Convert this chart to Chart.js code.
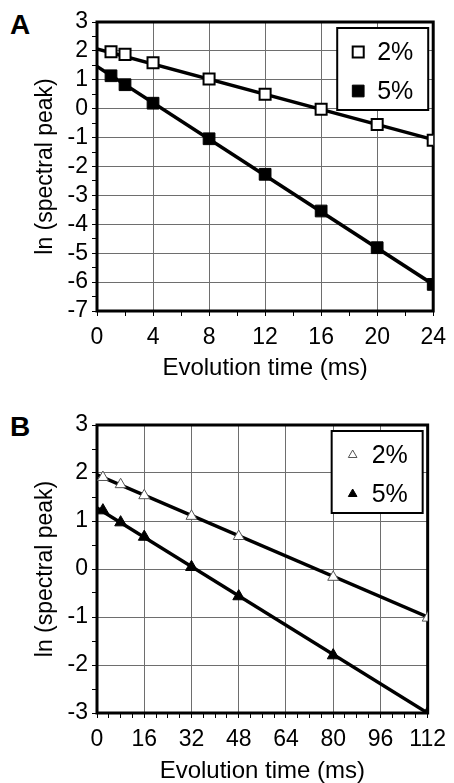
<!DOCTYPE html>
<html>
<head>
<meta charset="utf-8">
<script src="https://cdn.jsdelivr.net/npm/chart.js@4.4.1/dist/chart.umd.min.js"></script>
<style>
	html, body { margin: 0; padding: 0; background: #fff; }
	body { width: 454px; height: 783px; position: relative; overflow: hidden; font-family: "Liberation Sans", Arial, sans-serif; }
	.panel { position: absolute; left: 0; width: 454px; height: 380px; }
	.letter { position: absolute; left: 10px; font-weight: bold; font-size: 28px; line-height: 28px; color: #000; }
</style>
</head>
<body>
<div class="letter" style="top: 11px;">A</div>
<div class="panel" style="top: 0;"><canvas id="chartA" width="454" height="380"></canvas></div>
<div class="letter" style="top: 413px;">B</div>
<div class="panel" style="top: 403px;"><canvas id="chartB" width="454" height="380"></canvas></div>
<script>
// panel A: evolution time (ms) and ln(spectral peak)
const timesA = [1, 2, 4, 8, 12, 16, 20, 24];
const peakA2 = [1.97, 1.88, 1.59, 1.03, 0.50, -0.02, -0.55, -1.09];
const peakA5 = [1.14, 0.83, 0.19, -1.04, -2.27, -3.54, -4.81, -6.08];
const fitXA = [0, 24];
const fitA2 = [2.07, -1.07];
const fitA5 = [1.46, -6.08];

// panel B
const timesB = [2, 8, 16, 32, 48, 80, 112];
const peakB2 = [1.91, 1.76, 1.53, 1.10, 0.68, -0.17, -1.02];
const peakB5 = [1.22, 0.97, 0.67, 0.04, -0.57, -1.80, -3.00];
const fitXB = [0, 112];
const fitB2 = [1.96, -1.00];
const fitB5 = [1.27, -3.00];

const seriesLabels = ['2%', '5%'];

Chart.defaults.font.family = '"Liberation Sans", Arial, sans-serif';
Chart.defaults.color = '#000';

const pts = (xs, ys) => xs.map((x, i) => ({ x: x, y: ys[i] }));

// thick frame around the plot area
const framePlugin = {
	id: 'frame',
	beforeDatasetsDraw(chart) {
		const { ctx, chartArea: a } = chart;
		ctx.save();
		ctx.strokeStyle = '#000';
		ctx.lineWidth = 3;
		ctx.strokeRect(a.left, a.top, a.right - a.left, a.bottom - a.top);
		ctx.restore();
	}
};

// boxed legend inside the top right corner
const boxLegend = {
	id: 'boxLegend',
	afterDatasetsDraw(chart) {
		const { ctx, chartArea: a } = chart;
		const w = 91, h = 82;
		const left = a.right - 5 - w, top = a.top + 6;
		ctx.save();
		ctx.fillStyle = '#fff';
		ctx.fillRect(left, top, w, h);
		ctx.strokeStyle = '#000';
		ctx.lineWidth = 2;
		ctx.strokeRect(left, top, w, h);
		const items = chart.data.datasets.filter(d => d.label);
		items.forEach((d, i) => {
			const y = top + 24 + i * 39;
			ctx.fillStyle = d.pointBackgroundColor;
			ctx.strokeStyle = d.pointBorderColor;
			ctx.lineWidth = d.pointBorderWidth;
			Chart.helpers.drawPoint(ctx, {
				pointStyle: d.pointStyle,
				radius: d.legendRadius || d.pointRadius,
				rotation: 0,
				borderWidth: d.pointBorderWidth
			}, left + 21, y);
			ctx.fillStyle = '#000';
			ctx.font = '25px "Liberation Sans", Arial, sans-serif';
			ctx.textBaseline = 'middle';
			ctx.fillText(d.label, left + 40, y + 1);
		});
		ctx.restore();
	}
};

function makeChart(id, cfg) {
	const ctx = document.getElementById(id).getContext('2d');
	return new Chart(ctx, {
		type: 'scatter',
		data: {
			datasets: [
				{
					label: seriesLabels[0], data: pts(cfg.times, cfg.open), order: 0,
					showLine: false, pointStyle: cfg.style, pointRadius: cfg.radius,
					legendRadius: cfg.legendRadius,
					pointBackgroundColor: '#fff', pointBorderColor: cfg.openBorder,
					pointBorderWidth: cfg.openWidth
				},
				{
					label: seriesLabels[1], data: pts(cfg.times, cfg.filled), order: 0,
					showLine: false, pointStyle: cfg.style, pointRadius: cfg.radius + 0.5,
					legendRadius: cfg.legendRadius,
					pointBackgroundColor: '#000', pointBorderColor: '#000',
					pointBorderWidth: 1
				},
				{ data: pts(cfg.fitX, cfg.fitOpen), order: 1, showLine: true, borderColor: '#000', borderWidth: 3.5, pointRadius: 0 },
				{ data: pts(cfg.fitX, cfg.fitFilled), order: 1, showLine: true, borderColor: '#000', borderWidth: 3.5, pointRadius: 0 }
			]
		},
		options: {
			responsive: false,
			animation: false,
			layout: { padding: { left: 0, right: 19, top: 22, bottom: 0 } },
			plugins: { legend: { display: false }, tooltip: { enabled: false } },
			scales: {
				x: {
					type: 'linear', min: 0, max: cfg.xMax,
					border: { display: false },
					grid: {
						color: c => (c.tick && c.tick.value % cfg.xMajor === 0) ? '#6e6e6e' : 'rgba(0,0,0,0)',
						tickColor: '#000', tickLength: 5, lineWidth: 1
					},
					ticks: {
						stepSize: cfg.xMinor, autoSkip: false, maxRotation: 0, padding: 8,
						font: { size: 23 },
						callback: v => (v % cfg.xMajor === 0) ? v : ''
					},
					title: { display: true, text: 'Evolution time (ms)', font: { size: 24 }, padding: { top: 0, bottom: -3 } },
					afterFit: s => { s.height = cfg.xAxisH; }
				},
				y: {
					type: 'linear', min: cfg.yMin, max: cfg.yMax,
					border: { display: false },
					grid: {
						color: c => (c.tick && Number.isInteger(c.tick.value)) ? '#6e6e6e' : 'rgba(0,0,0,0)',
						tickColor: '#000', tickLength: 5, lineWidth: 1
					},
					ticks: {
						stepSize: 0.5, autoSkip: false, padding: 4,
						font: { size: 23 },
						callback: v => Number.isInteger(v) ? v : ''
					},
					title: { display: true, text: 'ln (spectral peak)', font: { size: 23 }, padding: { top: 32, bottom: 0 } },
					afterFit: s => { s.width = 97; }
				}
			}
		},
		plugins: [framePlugin, boxLegend]
	});
}

makeChart('chartA', {
	times: timesA, open: peakA2, filled: peakA5,
	fitX: fitXA, fitOpen: fitA2, fitFilled: fitA5,
	xMax: 24, xMajor: 4, xMinor: 2, yMin: -7, yMax: 3, xAxisH: 69,
	style: 'rect', radius: 7.8, legendRadius: 0, openBorder: '#000', openWidth: 2
});

makeChart('chartB', {
	times: timesB, open: peakB2, filled: peakB5,
	fitX: fitXB, fitOpen: fitB2, fitFilled: fitB5,
	xMax: 112, xMajor: 16, xMinor: 4, yMin: -3, yMax: 3, xAxisH: 70,
	style: 'triangle', radius: 6.3, legendRadius: 5, openBorder: '#555', openWidth: 1
});
</script>
</body>
</html>
